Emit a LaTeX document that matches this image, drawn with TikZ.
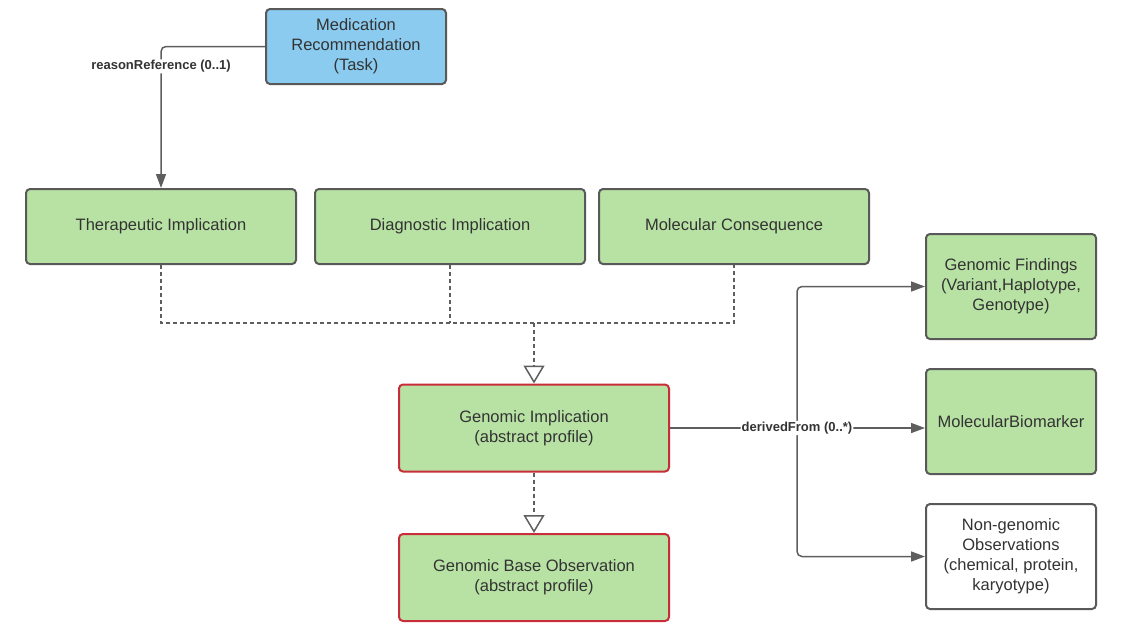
\documentclass[tikz,border=0pt]{standalone}
\usepackage{fontspec}
\setmainfont{Liberation Sans}
\usetikzlibrary{arrows.meta}
\definecolor{boxgreen}{HTML}{B8E2A4}
\definecolor{boxblue}{HTML}{8ACBEF}
\definecolor{boxborder}{HTML}{595959}
\definecolor{boxred}{HTML}{C92D39}
\definecolor{txt}{HTML}{333333}
\definecolor{linegray}{HTML}{5E5E5E}
\tikzset{
  box/.style={draw=boxborder, line width=2pt, rounded corners=4pt, fill=boxgreen,
    text=txt, align=center, inner sep=2pt,
    font=\fontsize{16.5}{20}\selectfont},
  redbox/.style={box, draw=boxred},
  conn/.style={draw=linegray, line width=1.5pt, rounded corners=5pt,
    -{Triangle[length=14pt,width=10pt]}},
  dashline/.style={draw=linegray, line width=1.5pt, dash pattern=on 4pt off 3pt},
  hollowtip/.style={-{Triangle[open, length=18pt, width=21pt, fill=white, line width=1.5pt]}},
  lbl/.style={fill=white, text=txt, inner sep=1pt, font=\fontsize{13}{15}\bfseries\selectfont}
}
\begin{document}
\begin{tikzpicture}[x=1pt,y=-1pt]
\useasboundingbox (0,0) rectangle (1132,630);
\node[box, fill=boxblue, minimum width=180pt, minimum height=75pt] (med) at (356,46.5) {Medication\\Recommendation\\(Task)};
\node[box, minimum width=270pt, minimum height=75pt] (ther) at (161,226.5) {Therapeutic Implication};
\node[box, minimum width=270pt, minimum height=75pt] (dia) at (450,226.5) {Diagnostic Implication};
\node[box, minimum width=270pt, minimum height=75pt] (mol) at (734,226.5) {Molecular Consequence};
\node[redbox, minimum width=270pt, minimum height=87pt] (gi) at (534,428) {Genomic Implication\\(abstract profile)};
\node[redbox, minimum width=270pt, minimum height=87pt] (gbo) at (534,577.5) {Genomic Base Observation\\(abstract profile)};
\node[box, minimum width=170pt, minimum height=105pt] (gf) at (1011,286.5) {Genomic Findings\\(Variant,Haplotype,\\Genotype)};
\node[box, minimum width=170pt, minimum height=105pt] (mb) at (1011,421.5) {MolecularBiomarker};
\node[box, fill=white, minimum width=170pt, minimum height=105pt] (ng) at (1011,556.5) {Non-genomic\\Observations\\(chemical, protein,\\karyotype)};

% reasonReference
\draw[conn] (med.west) -| (ther.north) node[lbl, pos=0.57] {reasonReference (0..1)};

% dashed generalisation bus
\coordinate (busy) at (0,323);
\draw[dashline] (ther.south) -- (ther.south |- busy) -- (mol.south |- busy) -- (mol.south);
\draw[dashline] (dia.south) -- (dia.south |- busy);
\draw[dashline, hollowtip] (gi.north |- busy) -- (gi.north);
\draw[dashline, hollowtip] (gi.south) -- (gbo.north);

% derivedFrom
\coordinate (jn) at (797,428);
\draw[conn] (jn) |- (gf.west);
\draw[conn] (jn) |- (ng.west);
\draw[conn] (gi.east) -- (gi.east -| mb.west) node[lbl, pos=0.498] {derivedFrom (0..*)};
\end{tikzpicture}
\end{document}
